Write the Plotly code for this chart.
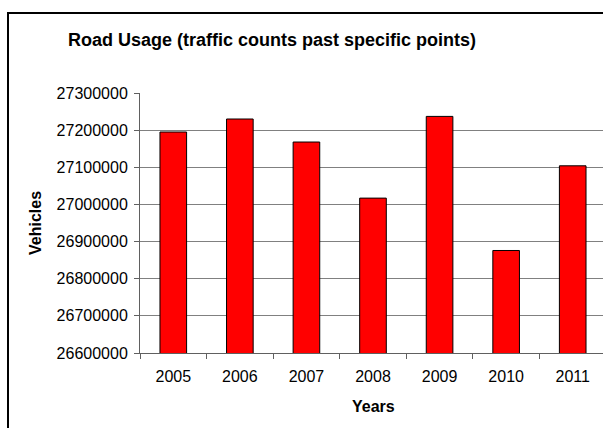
import plotly.graph_objects as go

years = ["2005", "2006", "2007", "2008", "2009", "2010", "2011"]
vehicles = [27195000, 27230000, 27168000, 27017000, 27237000, 26876000, 27104000]

title_text = "Road Usage (traffic counts past specific points)"
y_title = "Vehicles"
x_title = "Years"

W, H = 603, 428
L, R, T, B = 140, 0, 93, 75
pw, ph = W - L - R, H - T - B

def px_x(x):
    return (x - L) / pw

def px_y(y):
    return (H - B - y) / ph

FONT = "Arial, 'Liberation Sans', sans-serif"

fig = go.Figure(go.Bar(
    x=years, y=vehicles,
    marker=dict(color="#FF0000", line=dict(color="#000000", width=1)),
    width=0.4,
))

fig.update_layout(
    width=W, height=H,
    margin=dict(l=L, r=R, t=T, b=B, pad=0),
    paper_bgcolor="white", plot_bgcolor="white",
    showlegend=False,
    font=dict(family=FONT, size=16, color="black"),
    xaxis=dict(
        type="category", range=[-0.5, 6.455],
        showline=True, linecolor="#606060", linewidth=1,
        ticks="outside", ticklen=5, tickcolor="#606060", tickson="boundaries",
        showgrid=False, tickfont=dict(size=16),
        ticklabelstandoff=9,
    ),
    yaxis=dict(
        range=[26600000, 27300000], dtick=100000, tick0=26600000,
        tickformat="d",
        showline=True, linecolor="#606060", linewidth=1,
        ticks="outside", ticklen=5, tickcolor="#606060",
        showgrid=True, gridcolor="#808080", gridwidth=1,
        zeroline=False, tickfont=dict(size=16),
        ticklabelstandoff=3,
    ),
    annotations=[
        dict(text="<b>%s</b>" % title_text, x=px_x(271.5), y=px_y(40),
             xref="paper", yref="paper", showarrow=False,
             xanchor="center", yanchor="middle", font=dict(size=18)),
        dict(text="<b>%s</b>" % y_title, x=px_x(35), y=px_y(223),
             xref="paper", yref="paper", showarrow=False, textangle=-90,
             xanchor="center", yanchor="middle", font=dict(size=16)),
        dict(text="<b>%s</b>" % x_title, x=px_x(373), y=px_y(406.5),
             xref="paper", yref="paper", showarrow=False,
             xanchor="center", yanchor="middle", font=dict(size=16)),
    ],
    shapes=[
        dict(type="line", xref="paper", yref="paper",
             x0=px_x(8), x1=px_x(8), y0=px_y(12), y1=px_y(440),
             line=dict(color="black", width=2)),
        dict(type="line", xref="paper", yref="paper",
             x0=px_x(7), x1=px_x(620), y0=px_y(13), y1=px_y(13),
             line=dict(color="black", width=2)),
    ],
)

fig.write_html(
    "out.html",
    config={"displayModeBar": False},
    post_script="document.body.style.margin='0';document.body.style.overflow='hidden';",
)
